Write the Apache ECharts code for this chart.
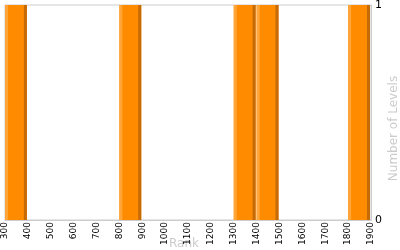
<!DOCTYPE html>
<html><head><meta charset="utf-8">
<script src="https://cdn.jsdelivr.net/npm/echarts@6/dist/echarts.min.js"></script>
<style>html,body{margin:0;padding:0;background:#fff}#c{width:400px;height:250px}</style>
</head><body><div id="c"></div>
<script>
var binStart = [300, 800, 1300, 1400, 1800];
var binEnd = [400, 900, 1400, 1500, 1900];
var counts = [1, 1, 1, 1, 1];
var xTicks = [300,400,500,600,700,800,900,1000,1100,1200,1300,1400,1500,1600,1700,1800,1900];

var data = binStart.map(function(s, i){ return [s, binEnd[i], counts[i]]; });
var chart = echarts.init(document.getElementById('c'));
chart.setOption({
  animation: false,
  grid: {left: 5, right: 29, top: 5, bottom: 30, show: true, borderColor: '#ccc', borderWidth: 1,
         containLabel: false, outerBoundsMode: 'none'},
  xAxis: {
    type: 'value', min: xTicks[0], max: xTicks[xTicks.length-1], interval: 100,
    name: 'Rank', nameLocation: 'middle', nameGap: 18, nameMoveOverlap: false,
    nameTextStyle: {color: '#ccc', fontSize: 12, fontFamily: 'DejaVu Sans', padding: [0, 8, 0, 0]},
    axisLine: {show: true, lineStyle: {color: '#ccc'}},
    axisTick: {show: false}, splitLine: {show: false},
    axisLabel: {rotate: 90, margin: 2, color: '#000', fontSize: 9, fontFamily: 'DejaVu Sans',
      hideOverlap: false, showMinLabel: true, showMaxLabel: true,
      formatter: function(v){ return String(v); }}
  },
  yAxis: {
    type: 'value', position: 'right', min: 0, max: 1, interval: 1,
    name: 'Number of Levels', nameLocation: 'middle', nameGap: 17, nameRotate: 90, nameMoveOverlap: false,
    nameTextStyle: {color: '#ccc', fontSize: 12, fontFamily: 'DejaVu Sans', padding: [0, 32, 0, 0]},
    axisLine: {show: true, lineStyle: {color: '#ccc'}},
    axisTick: {show: false}, splitLine: {show: false},
    axisLabel: {margin: 4, color: '#000', fontSize: 11, fontFamily: 'DejaVu Sans'}
  },
  series: [{
    type: 'custom',
    data: data,
    encode: {x: [0, 1], y: 2},
    renderItem: function(params, api){
      var p0 = api.coord([api.value(0), 0]);
      var p1 = api.coord([api.value(1), api.value(2)]);
      var x0 = p0[0], x1 = p1[0] - 1, y0 = p1[1], y1 = p0[1];
      var h = y1 - y0;
      return {type: 'group', children: [
        {type: 'rect', shape: {x: x0, y: y0, width: x1 - x0, height: h}, style: {fill: '#FF8C00'}},
        {type: 'rect', shape: {x: x0, y: y0, width: 3, height: h}, style: {fill: '#FFA53A'}},
        {type: 'rect', shape: {x: x1 - 3, y: y0, width: 3, height: h}, style: {fill: '#C46A06'}}
      ]};
    }
  }]
});
</script></body></html>
